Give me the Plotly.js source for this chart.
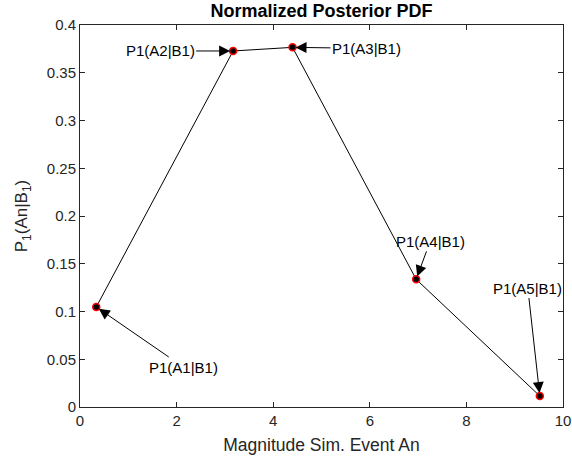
<!DOCTYPE html>
<html>
<head>
<meta charset="utf-8">
<script src="https://cdn.plot.ly/plotly-3.0.1.min.js"></script>
<style>html,body{margin:0;padding:0;background:#fff;}#chart{width:572px;height:462px;}</style>
</head>
<body>
<div id="chart"></div>
<script>
var magnitudes = [0.337, 3.17, 4.40, 6.96, 9.52];
var posterior = [0.1047, 0.3728, 0.3766, 0.1337, 0.0115];
var pointLabels = ["P1(A1|B1)", "P1(A2|B1)", "P1(A3|B1)", "P1(A4|B1)", "P1(A5|B1)"];
var labelOffsets = [[87, 60], [-73, 0], [74, 1], [14, -38], [-12, -108]];
var xTicks = [0, 2, 4, 6, 8, 10];
var yTicks = [0, 0.05, 0.1, 0.15, 0.2, 0.25, 0.3, 0.35, 0.4];

var FONT = 'Liberation Sans, Arial, Helvetica, sans-serif';

var trace = {
  x: magnitudes, y: posterior, type: 'scatter', mode: 'lines+markers',
  line: {color: '#000', width: 1},
  marker: {color: '#000', size: 7, line: {color: '#ff0000', width: 1.5}},
  hoverinfo: 'none'
};

var annotations = magnitudes.map(function(x, i){
  return {
    x: x, y: posterior[i], xref: 'x', yref: 'y',
    text: pointLabels[i], showarrow: true,
    ax: labelOffsets[i][0], ay: labelOffsets[i][1],
    arrowhead: 2, arrowsize: 2.2, arrowwidth: 1, arrowcolor: '#000',
    standoff: 3,
    font: {family: FONT, size: 15, color: '#000'}
  };
});

var axisCommon = {
  showgrid: false, zeroline: false, showline: true, linecolor: '#262626', linewidth: 1,
  mirror: 'ticks', ticks: 'inside', ticklen: 5, tickcolor: '#262626',
  tickfont: {family: FONT, size: 15, color: '#262626'}
};

var layout = {
  width: 572, height: 462,
  margin: {l: 80, r: 9, t: 25, b: 55},
  paper_bgcolor: '#fff', plot_bgcolor: '#fff',
  showlegend: false,
  title: {text: '<b>Normalized Posterior PDF</b>', x: 0.562, xanchor: 'center', y: 0.976, yanchor: 'middle',
          font: {family: FONT, size: 18, color: '#000'}},
  xaxis: Object.assign({}, axisCommon, {
    range: [0, 10], tickvals: xTicks, ticktext: xTicks.map(String),
    title: {text: 'Magnitude Sim. Event An', standoff: 10,
            font: {family: FONT, size: 17.5, color: '#262626'}}
  }),
  yaxis: Object.assign({}, axisCommon, {
    range: [0, 0.4], tickvals: yTicks, ticktext: yTicks.map(String),
    title: {text: 'P<sub>1</sub>(An|B<sub>1</sub>)', standoff: 14,
            font: {family: FONT, size: 17, color: '#262626'}}
  }),
  annotations: annotations
};

Plotly.newPlot('chart', [trace], layout, {staticPlot: true, displayModeBar: false});
</script>
</body>
</html>
